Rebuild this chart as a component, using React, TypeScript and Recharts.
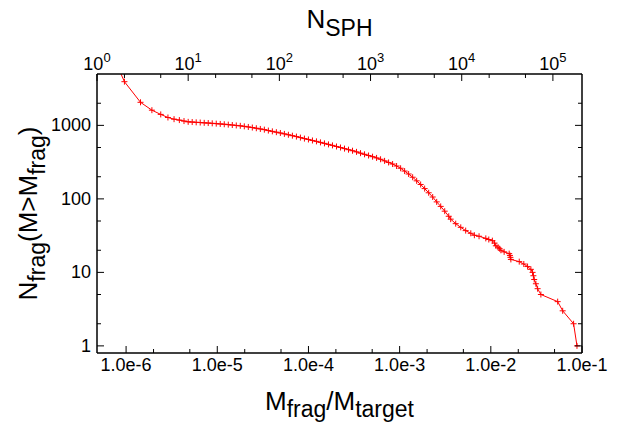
import React from "react";
import { LineChart, Line, XAxis, YAxis } from "recharts";

// M_frag / M_target (bottom axis)
const massRatio = [
  4.797e-7, 9.59e-7, 1.439e-6, 1.919e-6, 2.399e-6, 2.878e-6, 3.358e-6, 3.838e-6, 4.317e-6,
  4.797e-6, 5.308e-6, 5.873e-6, 6.499e-6, 7.191e-6, 7.957e-6, 8.805e-6, 9.743e-6, 1.078e-5, 1.193e-5,
  1.32e-5, 1.461e-5, 1.616e-5, 1.788e-5, 1.979e-5, 2.19e-5, 2.423e-5, 2.681e-5, 2.967e-5, 3.283e-5,
  3.632e-5, 4.019e-5, 4.447e-5, 4.921e-5, 5.445e-5, 6.025e-5, 6.667e-5, 7.377e-5, 8.163e-5, 9.032e-5,
  9.994e-5, 1.106e-4, 1.224e-4, 1.354e-4, 1.498e-4, 1.658e-4, 1.834e-4, 2.03e-4, 2.246e-4, 2.485e-4,
  2.75e-4, 3.043e-4, 3.367e-4, 3.725e-4, 4.122e-4, 4.561e-4, 5.047e-4, 5.585e-4, 6.18e-4, 6.838e-4,
  7.566e-4, 8.372e-4, 9.264e-4, 1.025e-3, 1.134e-3, 1.255e-3, 1.389e-3, 1.537e-3, 1.7e-3, 1.881e-3,
  2.082e-3, 2.304e-3, 2.549e-3, 2.821e-3, 3.121e-3, 3.454e-3,
  3.63e-3, 4.12e-3, 4.68e-3, 5.3e-3, 6.03e-3, 6.6e-3, 7.43e-3, 8.81e-3, 9.5e-3, 1.04e-2, 1.1e-2,
  1.135e-2, 1.2e-2, 1.25e-2, 1.29e-2, 1.4e-2, 1.59e-2, 1.62e-2, 1.64e-2, 1.66e-2, 2.05e-2, 2.3e-2,
  2.53e-2, 2.75e-2, 2.87e-2, 2.93e-2, 2.99e-2, 3.12e-2, 3.26e-2, 3.54e-2, 5.41e-2, 6.14e-2, 8.09e-2,
  8.81e-2,
];

// N_frag(M > M_frag)
const fragCount = [
  27000, 3930, 2060, 1610, 1410, 1280, 1215, 1180, 1145,
  1117, 1110, 1100, 1093, 1083, 1076, 1066, 1056, 1046, 1036,
  1023, 1011, 998, 986, 970, 952, 934, 914, 894, 875,
  850, 829, 808, 788, 766, 745, 724, 704, 682, 661,
  643, 623, 606, 587, 569, 551, 534, 516, 500, 483,
  467, 452, 436, 419, 404, 389, 375, 361, 346, 329,
  313, 298, 280, 261, 239, 218, 197, 176, 157, 138,
  121, 106, 91, 79, 68, 58,
  53, 46, 41, 37, 34, 32, 31, 29, 28, 27, 25,
  23, 22, 21, 20, 19, 18, 17, 16, 15, 14, 13,
  12, 11, 10, 9, 8, 7, 6, 5, 4, 3, 2,
  1,
];

const massTicks = [
  1e-6, 2e-6, 5e-6, 1e-5, 2e-5, 5e-5, 1e-4, 2e-4, 5e-4, 1e-3, 2e-3, 5e-3, 1e-2, 2e-2, 5e-2, 1e-1,
];
const sphTicks = [1, 2, 5, 10, 20, 50, 100, 200, 500, 1000, 2000, 5000, 1e4, 2e4, 5e4, 1e5];
const countTicks = [1, 2, 5, 10, 20, 50, 100, 200, 500, 1000, 2000];

const data = massRatio.map((m, i) => ({ m, n: fragCount[i] }));
// invisible helper series so the top (N_SPH) axis gets a scale
const sphGuide = sphTicks.map((nsph) => ({ nsph, n: 1 }));

const FONT = "'Liberation Sans', Arial, Helvetica, sans-serif";
const RED = "#ff0000";

const isMajor = (v: number) => {
  const l = Math.log10(v);
  return Math.abs(l - Math.round(l)) < 1e-6;
};

const BottomTick = ({ x, y, payload }: any) => {
  const major = isMajor(payload.value);
  return (
    <g>
      <line x1={x} x2={x} y1={y} y2={y - (major ? 7 : 4)} stroke="#000" />
      {major && (
        <text x={x} y={y + 18} textAnchor="middle" fontSize={18} fontFamily={FONT} fill="#000">
          {payload.value.toExponential(1)}
        </text>
      )}
    </g>
  );
};

const TopTick = ({ x, y, payload }: any) => {
  const major = isMajor(payload.value);
  return (
    <g>
      <line x1={x} x2={x} y1={y} y2={y + (major ? 7 : 4)} stroke="#000" />
      {major && (
        <text x={x} y={y - 4} textAnchor="middle" fontSize={18} fontFamily={FONT} fill="#000">
          10
          <tspan dy={-8} fontSize={13}>
            {Math.round(Math.log10(payload.value))}
          </tspan>
        </text>
      )}
    </g>
  );
};

const LeftTick = ({ x, y, payload }: any) => {
  const major = isMajor(payload.value);
  return (
    <g>
      <line x1={x} x2={x + (major ? 7 : 4)} y1={y} y2={y} stroke="#000" />
      {major && (
        <text x={x - 6} y={y + 6} textAnchor="end" fontSize={18} fontFamily={FONT} fill="#000">
          {payload.value}
        </text>
      )}
    </g>
  );
};

const RightTick = ({ x, y, payload }: any) => {
  const major = isMajor(payload.value);
  return <line x1={x} x2={x - (major ? 7 : 4)} y1={y} y2={y} stroke="#000" />;
};

const PlusDot = (props: any) => {
  const { cx, cy, index } = props;
  if (cx == null || cy == null) return <g key={`d-${index}`} />;
  return (
    <path
      key={`d-${index}`}
      d={`M${cx - 3},${cy}h6M${cx},${cy - 3}v6`}
      stroke={RED}
      strokeWidth={1}
      fill="none"
    />
  );
};

const BottomTitle = ({ viewBox }: any) => {
  const { x, y, width } = viewBox;
  return (
    <text x={x + width / 2} y={y + 57} textAnchor="middle" fontSize={26} fontFamily={FONT} fill="#000">
      M
      <tspan dy={7} fontSize={23}>frag</tspan>
      <tspan dy={-7}>/M</tspan>
      <tspan dy={7} fontSize={23}>target</tspan>
    </text>
  );
};

const TopTitle = ({ viewBox }: any) => {
  const { x, y, width } = viewBox;
  return (
    <text x={x + width / 2} y={y - 16} textAnchor="middle" fontSize={26} fontFamily={FONT} fill="#000">
      N
      <tspan dy={8} fontSize={23}>SPH</tspan>
    </text>
  );
};

const LeftTitle = ({ viewBox }: any) => {
  const { x, y, height } = viewBox;
  const cx = x;
  const cy = y + height / 2;
  return (
    <text
      x={cx}
      y={cy}
      transform={`rotate(-90 ${cx} ${cy})`}
      textAnchor="middle"
      fontSize={26}
      fontFamily={FONT}
      fill="#000"
    >
      N
      <tspan dy={8} fontSize={23}>frag</tspan>
      <tspan dy={-8}>(M&gt;M</tspan>
      <tspan dy={8} fontSize={23}>frag</tspan>
      <tspan dy={-8}>)</tspan>
    </text>
  );
};

export default function App() {
  return (
    <div style={{ position: "absolute", left: 0, top: 0 }}>
      <LineChart width={622} height={423} data={data} margin={{ top: 44, right: 30, bottom: 40, left: 37 }}>
        <XAxis
          xAxisId="bottom"
          dataKey="m"
          type="number"
          scale="log"
          domain={[4.797e-7, 0.1]}
          allowDataOverflow
          ticks={massTicks}
          interval={0}
          height={30}
          tickSize={0}
          tickMargin={0}
          tickLine={false}
          tick={<BottomTick />}
          axisLine={{ stroke: "#000", strokeWidth: 1.5 }}
          label={{ content: (p: any) => <BottomTitle viewBox={p.viewBox} /> }}
        />
        <XAxis
          xAxisId="top"
          dataKey="nsph"
          orientation="top"
          type="number"
          scale="log"
          domain={[1, 2.085e5]}
          allowDataOverflow
          ticks={sphTicks}
          interval={0}
          height={30}
          tickSize={0}
          tickMargin={0}
          tickLine={false}
          tick={<TopTick />}
          axisLine={{ stroke: "#000", strokeWidth: 1.5 }}
          label={{ content: (p: any) => <TopTitle viewBox={p.viewBox} /> }}
        />
        <YAxis
          yAxisId="left"
          type="number"
          scale="log"
          domain={[0.8, 5000]}
          allowDataOverflow
          ticks={countTicks}
          interval={0}
          width={60}
          tickSize={0}
          tickMargin={0}
          tickLine={false}
          tick={<LeftTick />}
          axisLine={{ stroke: "#000", strokeWidth: 1.5 }}
          label={{ content: (p: any) => <LeftTitle viewBox={p.viewBox} /> }}
        />
        <YAxis
          yAxisId="right"
          orientation="right"
          type="number"
          scale="log"
          domain={[0.8, 5000]}
          allowDataOverflow
          ticks={countTicks}
          interval={0}
          width={10}
          tickSize={0}
          tickMargin={0}
          tickLine={false}
          tick={<RightTick />}
          axisLine={{ stroke: "#000", strokeWidth: 1.5 }}
        />
        <Line
          xAxisId="top"
          yAxisId="right"
          data={sphGuide}
          dataKey="n"
          stroke="none"
          dot={false}
          activeDot={false}
          legendType="none"
          isAnimationActive={false}
        />
        <Line
          xAxisId="bottom"
          yAxisId="left"
          dataKey="n"
          type="linear"
          stroke={RED}
          strokeWidth={1}
          dot={PlusDot}
          activeDot={false}
          isAnimationActive={false}
        />
      </LineChart>
    </div>
  );
}
